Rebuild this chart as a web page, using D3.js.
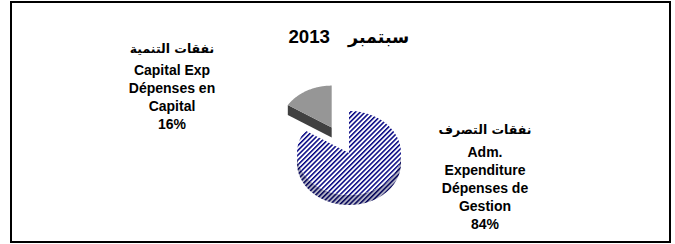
<!DOCTYPE html>
<meta charset="utf-8">
<style>
body { margin: 0; background: #fff; }
text { font-family: "Liberation Sans", Arial, sans-serif; font-weight: bold; fill: #000; }
.ar { font-family: "DejaVu Sans", "Noto Sans", sans-serif; }
</style>
<svg width="675" height="244"></svg>
<script src="https://cdnjs.cloudflare.com/ajax/libs/d3/7.8.5/d3.min.js"></script>
<script>

// data
var categories = ["Adm. Expenditure", "Capital Exp"];
var values = [84, 16];
var arabicLabels = ["نفقات التصرف", "نفقات التنمية"];
var labelLines = [
  ["Adm.", "Expenditure", "Dépenses de", "Gestion"],
  ["Capital Exp", "Dépenses en", "Capital"]
];
var titleMonth = "سبتمبر";
var titleYear = "2013";

var svg = d3.select("svg");

// frame
svg.append("rect")
  .attr("x", 11).attr("y", 2)
  .attr("width", 659).attr("height", 240)
  .attr("fill", "#fff")
  .attr("stroke", "#000")
  .attr("stroke-width", 2);

// hatch patterns
var defs = svg.append("defs");
function hatch(id, bg, fg) {
  var p = defs.append("pattern")
    .attr("id", id)
    .attr("patternUnits", "userSpaceOnUse")
    .attr("width", 3.4).attr("height", 3.4)
    .attr("patternTransform", "rotate(45)");
  p.append("rect").attr("width", 3.4).attr("height", 3.4).attr("fill", bg);
  p.append("rect").attr("width", 1.5).attr("height", 3.4).attr("fill", fg);
}
hatch("hatchTop", "#fff", "#000080");
hatch("hatchSide", "#b4b4c4", "#000058");

// pie geometry
var cx = 349, cy = 153, rx = 52, ry = 42, depth = 10, explode = 0.69;

var pie = d3.pie().sort(null).startAngle(0).endAngle(2 * Math.PI);
var arcs = pie(values);

function pt(a, ox, oy) {
  return [cx + ox + rx * Math.sin(a), cy + oy - ry * Math.cos(a)];
}
function arcPts(a0, a1, ox, oy) {
  var n = 80;
  return d3.range(n + 1).map(function(i) { return pt(a0 + (a1 - a0) * i / n, ox, oy); });
}
var line = d3.line();

var topFill = ["url(#hatchTop)", "#969696"];
var wallFill = ["url(#hatchSide)", "#4a4a4a"];
var cutFill = ["#333", "#404040"];

var g = svg.append("g");

arcs.forEach(function(d, i) {
  var ox = 0, oy = 0;
  if (i === 1) {
    var m = (d.startAngle + d.endAngle) / 2;
    ox = explode * rx * Math.sin(m);
    oy = -explode * ry * Math.cos(m);
  }
  d.ox = ox; d.oy = oy;
});

// side walls first
arcs.forEach(function(d, i) {
  var a0 = Math.max(d.startAngle, Math.PI / 2),
      a1 = Math.min(d.endAngle, 3 * Math.PI / 2);
  if (a1 > a0) {
    var pts = arcPts(a0, a1, d.ox, d.oy)
      .concat(arcPts(a0, a1, d.ox, d.oy + depth).reverse());
    g.append("path").attr("d", line(pts) + "Z").attr("fill", wallFill[i]);
  }
  // visible cut face at start angle (faces front when start angle in back-left)
  if (d.startAngle > Math.PI) {
    var c = [cx + d.ox, cy + d.oy];
    var e = pt(d.startAngle, d.ox, d.oy);
    var face = [c, e, [e[0], e[1] + depth], [c[0], c[1] + depth]];
    g.append("path").attr("d", line(face) + "Z").attr("fill", cutFill[i]);
  }
});

// top faces
arcs.forEach(function(d, i) {
  var pts = [[cx + d.ox, cy + d.oy]].concat(arcPts(d.startAngle, d.endAngle, d.ox, d.oy));
  g.append("path").attr("d", line(pts) + "Z").attr("fill", topFill[i]);
});

// title
svg.append("text")
  .attr("x", 330).attr("y", 43)
  .attr("text-anchor", "end")
  .attr("font-size", 18.7)
  .text(titleYear);
svg.append("text")
  .attr("class", "ar")
  .attr("x", 348).attr("y", 43)
  .attr("text-anchor", "start")
  .attr("font-size", 17.5)
  .text(titleMonth);

// labels
var labelPos = [[485, 134, 156.5], [172, 53, 74.5]];
var total = d3.sum(values);
arcs.forEach(function(d, i) {
  var p = labelPos[i];
  svg.append("text")
    .attr("class", "ar")
    .attr("x", p[0]).attr("y", p[1])
    .attr("text-anchor", "middle")
    .attr("font-size", 12.5)
    .text(arabicLabels[i]);
  var lines = labelLines[i].concat([Math.round(values[i] / total * 100) + "%"]);
  svg.append("text")
    .attr("text-anchor", "middle")
    .attr("font-size", 14)
    .selectAll("tspan")
    .data(lines)
    .enter().append("tspan")
      .attr("x", p[0])
      .attr("y", function(t, j) { return p[2] + j * 18; })
      .text(function(t) { return t; });
});

</script>
